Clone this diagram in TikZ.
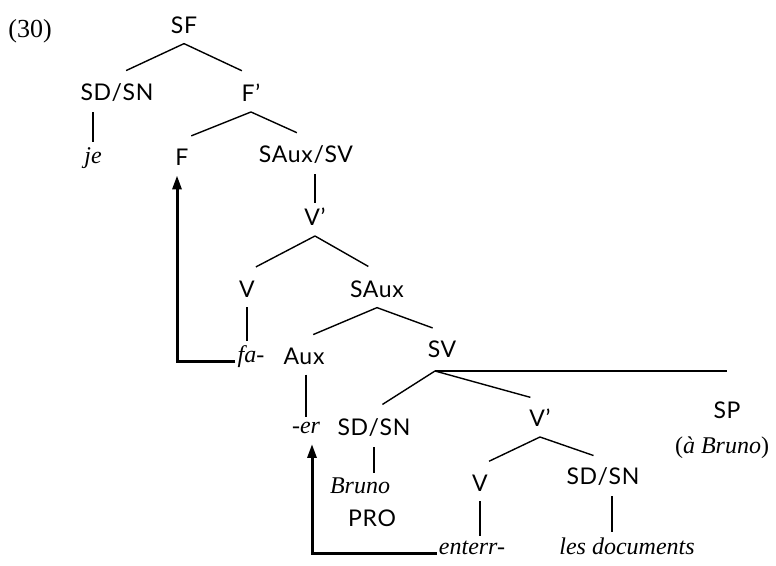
\documentclass[tikz,border=0pt]{standalone}
\usepackage{fontspec}
\setmainfont{Lato}[LetterSpace=3]
\newfontfamily\exfont{Liberation Serif}
\usetikzlibrary{arrows.meta,calc}
\tikzset{
    cat/.style={inner sep=2pt,font=\fontsize{23}{26}\selectfont},
    word/.style={inner sep=2pt,font=\exfont\itshape\fontsize{24}{26}\selectfont},
    branch/.style={line width=1.4pt,shorten >=10pt},
    stem/.style={line width=1.4pt,shorten <=8pt,shorten >=3pt},
    move/.style={line width=3pt,-{Triangle[length=14pt,width=9pt]},shorten >=8pt},
    adjunct/.style={line width=2.4pt},
}
% tree: parent, child
\newcommand\branch[2]{\draw[branch] ([yshift=-8pt]#1.south) -- ([yshift=7pt]#2.north);}

\begin{document}
\begin{tikzpicture}[x=1pt,y=-1pt]
    \useasboundingbox (0,0) rectangle (776,565);
    \node[inner sep=0pt,font=\exfont\fontsize{26}{28}\selectfont] (ex) at (30,31) {(30)};
    % categories
    \node[cat] (sf) at (184,25) {SF};
    \node[cat] (sdsn1) at (117,93) {SD/SN};
    \node[cat] (fp) at (251,93) {F’};
    \node[cat] (f) at (182,157) {F};
    \node[cat] (sauxsv) at (306,155) {SAux/SV};
    \node[cat] (vp1) at (315,217) {V’};
    \node[cat] (v1) at (247,289) {V};
    \node[cat] (saux) at (377,289) {SAux};
    \node[cat] (aux) at (304,356) {Aux};
    \node[cat] (sv) at (442,349) {SV};
    \node[cat] (sdsn2) at (374,428) {SD/SN};
    \node[cat] (vp2) at (540,418) {V’};
    \node[cat] (sp) at (727,410) {SP};
    \node[cat] (v2) at (480,483) {V};
    \node[cat] (sdsn3) at (603,477) {SD/SN};
    \node[cat] (pro) at (372,518) {PRO};
    % words
    \node[word] (je) at (93,158) {je};
    \node[word] (fa) at (251,357) {fa-};
    \node[word] (er) at (306,428) {-er};
    \node[word] (bruno) at (360,486) {Bruno};
    \node[word] (enterr) at (472,548) {enterr-};
    \node[word] (docs) at (627,546) {les documents};
    \node[word] (abruno) at (722,448) {{\upshape(}à Bruno{\upshape)}};
    \coordinate (svfork) at (435,371);

    \branch{sf}{sdsn1}
    \branch{sf}{fp}
    \branch{fp}{f}
    \branch{fp}{sauxsv}
    \branch{vp1}{v1}
    \branch{vp1}{saux}
    \branch{saux}{aux}
    \branch{saux}{sv}
    \branch{vp2}{v2}
    \branch{vp2}{sdsn3}
    \draw[branch] (svfork) -- ([yshift=7pt]sdsn2.north);
    \draw[branch] (svfork) -- ([yshift=7pt]vp2.north);
    \draw[adjunct] (svfork) -- (svfork -| sp.north);

    \draw[stem] (sdsn1.south -| je.north) -- (je.north);
    \draw[stem] (sauxsv.south -| vp1.north) -- (vp1.north);
    \draw[stem] (v1.south) -- (v1.south |- fa.north);
    \draw[stem] (aux.south -| er.north) -- (er.north);
    \draw[stem] (sdsn2.south) -- (sdsn2.south |- bruno.north);
    \draw[stem] (v2.south) -- (v2.south |- enterr.north);
    \draw[stem] ([xshift=9pt]sdsn3.south) -- ([xshift=9pt]sdsn3.south |- docs.north);

    % head movement
    \draw[move] ([yshift=-4pt]fa.west) -| ([xshift=-5pt]f.south);
    \draw[move] ([yshift=-5pt]enterr.west) -| ([xshift=6pt]er.south);
\end{tikzpicture}
\end{document}
